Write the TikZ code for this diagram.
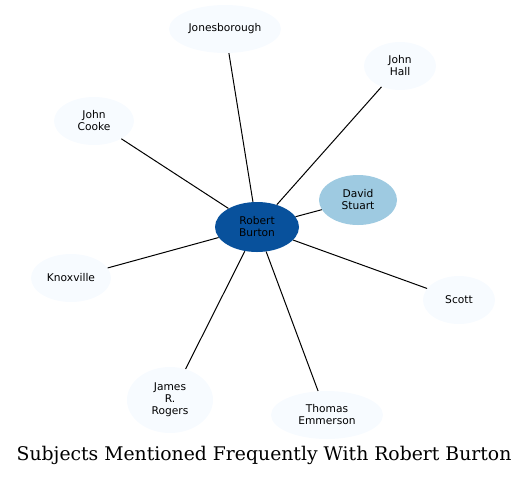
\documentclass[tikz,border=0pt]{standalone}
\usepackage{fontspec}
\setmainfont{DejaVu Serif}
\newfontfamily\nodefont{DejaVu Sans}
\usetikzlibrary{shapes.geometric}
\definecolor{hubblue}{RGB}{8,81,156}
\definecolor{midblue}{RGB}{158,202,225}
\definecolor{paleblue}{RGB}{247,251,255}

\begin{document}
\begin{tikzpicture}[x=.75pt,y=-.75pt,
    subj/.style={ellipse,fill=paleblue,inner sep=0pt,align=center,
      font=\nodefont\fontsize{8}{9}\selectfont},
    link/.style={black,line width=.75pt}]
  \useasboundingbox (0,0) rectangle (528,476);
  \node[subj,fill=hubblue,minimum width=63pt,minimum height=37.5pt] (burton) at (257,227) {Robert\\Burton};
  \node[subj,fill=midblue,minimum width=58.5pt,minimum height=37.5pt] (stuart) at (358,200) {David\\Stuart};
  \node[subj,minimum width=84pt,minimum height=36pt] (jones) at (225,29) {Jonesborough};
  \node[subj,minimum width=54pt,minimum height=36pt] (hall) at (400,66) {John\\Hall};
  \node[subj,minimum width=60pt,minimum height=36pt] (cooke) at (94,121) {John\\Cooke};
  \node[subj,minimum width=60pt,minimum height=36pt] (knox) at (71,278) {Knoxville};
  \node[subj,minimum width=54pt,minimum height=36pt] (scott) at (459,300) {Scott};
  \node[subj,minimum width=64.5pt,minimum height=49.5pt] (rogers) at (170,400) {James\\R.\\Rogers};
  \node[subj,minimum width=84pt,minimum height=36pt] (emmerson) at (327,415) {Thomas\\Emmerson};
  \foreach \n in {stuart,jones,hall,cooke,knox,scott,rogers,emmerson}
    \draw[link] (burton) -- (\n);
  \node[font=\fontsize{14.1}{16}\selectfont] (title) at (264,455) {Subjects Mentioned Frequently With Robert Burton};
\end{tikzpicture}
\end{document}
